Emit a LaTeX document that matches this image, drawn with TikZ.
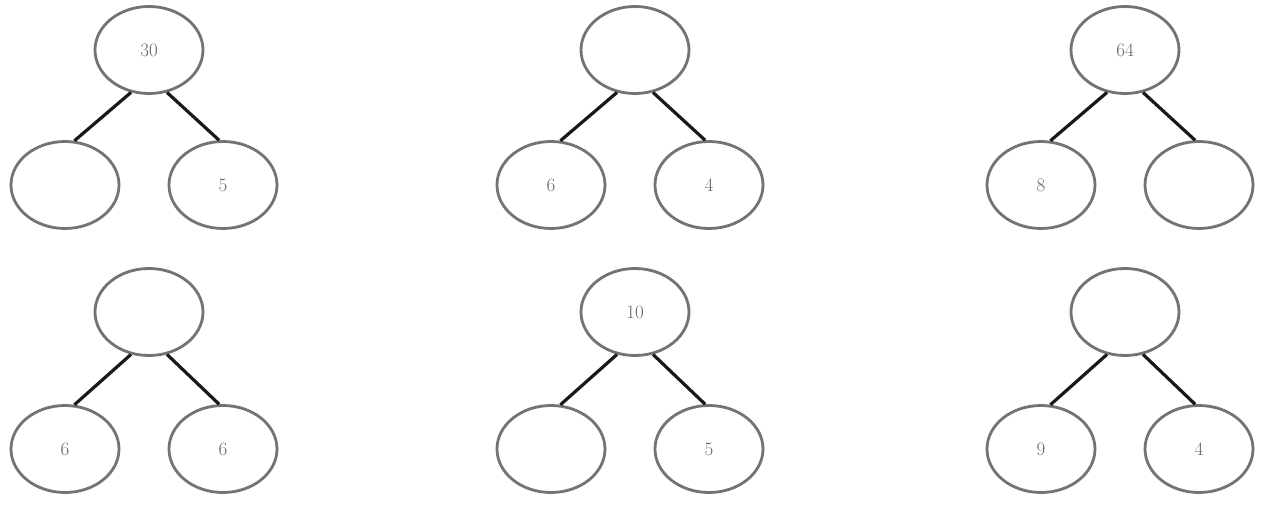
\documentclass[tikz,border=0pt]{standalone}
\usepackage{fontspec}
\usetikzlibrary{shapes.geometric}
\begin{document}
\begin{tikzpicture}[x=1pt,y=-1pt,
  bub/.style={draw=black!55,line width=2.8pt,ellipse,minimum width=108pt,minimum height=87pt,inner sep=0pt,font=\fontsize{19}{19}\selectfont,text=black!60},
  edge/.style={draw=black!90,line width=3.2pt}]
\useasboundingbox[fill=white] (0,0) rectangle (1283,508);
\foreach \id/\rx/\ry/\cy/\rt/\lt/\rgt in {
  a/149/50/185/30//5,
  b/635/50/185//6/4,
  c/1125/50/185/64/8/,
  d/149/312/449//6/6,
  e/635/312/449/10//5,
  f/1125/312/449//9/4}{
  \node[bub] (\id r) at (\rx,\ry) {\rt};
  \node[bub] (\id l) at (\rx-84,\cy) {\lt};
  \node[bub] (\id s) at (\rx+74,\cy) {\rgt};
  \draw[edge] (\id r.-113) -- (\id l.78);
  \draw[edge] (\id r.-67) -- (\id s.95);
}
\end{tikzpicture}
\end{document}
